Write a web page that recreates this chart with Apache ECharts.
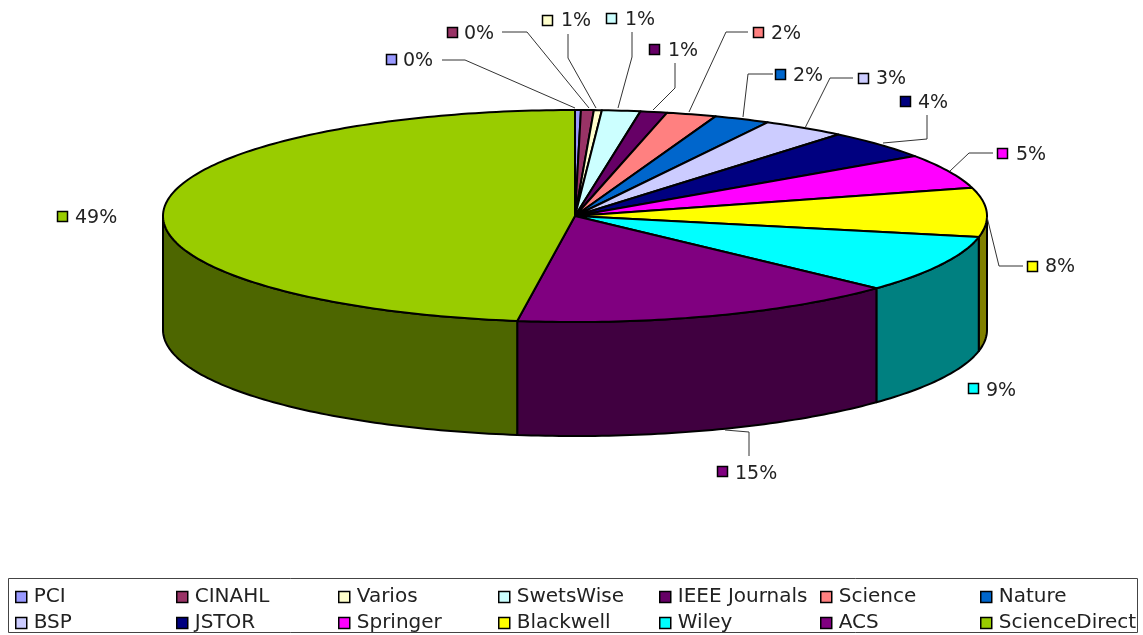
<!DOCTYPE html>
<html><head><meta charset="utf-8">
<style>html,body{margin:0;padding:0;background:#fff}#c{width:1143px;height:635px}</style>
<script src="https://cdn.jsdelivr.net/npm/echarts@6/dist/echarts.min.js"></script></head>
<body><div id="c"></div>
<script>
const categories = ['PCI','CINAHL','Varios','SwetsWise','IEEE Journals','Science','Nature','BSP','JSTOR','Springer','Blackwell','Wiley','ACS','ScienceDirect'];
const values = [0.23,0.5,0.31,1.5,1.05,1.95,2.2,3.3,4.4,5.25,7.5,8.75,15.3,47.76];
const percentLabels = ['0%','0%','1%','1%','1%','2%','2%','3%','4%','5%','8%','9%','15%','49%'];
const topColors = ['#9999FF','#993366','#FFFFCC','#CCFFFF','#660066','#FF8080','#0066CC','#CCCCFF','#000080','#FF00FF','#FFFF00','#00FFFF','#800080','#99CC00'];
const sideColors = ['#4D4D80','#4D1A33','#808066','#668080','#330033','#804040','#003366','#666680','#000040','#800080','#808000','#008080','#400040','#4D6600'];

// layout of the pie on the page
const cx = 575, cy = 216, rx = 412, ry = 106, depth = 114;
// layout of each callout: swatch x, swatch y, text x, text y, leader points
const callouts = [
 [386,54,403,61,[[442,60],[465,60],[575,108]]],
 [447,27,464,34,[[502,32],[527,32],[589,108]]],
 [542,15,561,21,[[568,34],[568,58],[596,108]]],
 [606,13,625,20,[[632,32],[632,57],[618,108]]],
 [649,44,668,51,[[675,63],[675,88],[653,110]]],
 [753,27,771,34,[[748,32],[726,32],[689,112]]],
 [775,69,793,76,[[773,74],[748,74],[743,117]]],
 [858,73,876,79,[[853,78],[830,78],[805,128]]],
 [900,96,918,103,[[927,115],[927,139],[883,143]]],
 [997,148,1016,155,[[993,153],[969,153],[950,171]]],
 [1027,261,1045,267,[[1023,266],[999,266],[987,217]]],
 [968,383,986,391,null],
 [717,466,735,474,[[749,456],[749,432],[725,430]]],
 [57,211,75,218,null]
];
const total = values.reduce((a,b)=>a+b,0);
const starts = []; values.reduce((acc,v,i)=>{starts[i]=acc;return acc+v;},0);

function pt(api,deg,drop){
  const t = deg*Math.PI/180;
  return api.coord([Math.sin(t), Math.cos(t)-drop]);
}
function arc(api,a,b,drop){
  const pts=[]; const n=Math.max(2,Math.ceil(Math.abs(b-a)));
  for(let k=0;k<=n;k++) pts.push(pt(api,a+(b-a)*k/n,drop));
  return pts;
}
const dropUnits = depth/ry;
function makeRender(i){
  return function(params,api){
    const s = starts[i]/total*360, e = (starts[i]+api.value(1))/total*360;
    const children=[];
    const a=Math.max(s,90), b=Math.min(e,270);
    if(b>a){
      const pts = arc(api,a,b,0).concat(arc(api,b,a,dropUnits));
      children.push({type:'polygon',z2:1,shape:{points:pts},
        style:{fill:sideColors[i],stroke:'#000',lineWidth:2,lineJoin:'round'}});
    }
    const top=[api.coord([0,0])].concat(arc(api,s,e,0));
    children.push({type:'polygon',z2:5,shape:{points:top},
      style:{fill:topColors[i],stroke:'#000',lineWidth:2,lineJoin:'round'}});
    return {type:'group',children};
  };
}
const series = categories.map((name,i)=>({
  type:'custom',name,coordinateSystem:'cartesian2d',silent:true,animation:false,
  itemStyle:{color:topColors[i]},
  encode:{x:0,y:1},
  data:[[0,values[i]]],
  renderItem:makeRender(i)
}));

const font='"DejaVu Sans"', fs=19, legendFs=20;
const graphic=[{type:'rect',z:0,shape:{x:8.5,y:578.5,width:1129,height:54},style:{fill:'#fff',stroke:'#444',lineWidth:1}}];
callouts.forEach((c,i)=>{
  if(c[4]) graphic.push({type:'polyline',z:3,shape:{points:c[4]},style:{fill:null,stroke:'#333',lineWidth:1}});
  graphic.push({type:'rect',z:4,shape:{x:c[0]+.5,y:c[1]+.5,width:10,height:10},style:{fill:topColors[i],stroke:'#000',lineWidth:1.5}});
  graphic.push({type:'text',z:4,style:{x:c[2],y:c[3],text:percentLabels[i],font:fs+'px '+font,fill:'#222',textVerticalAlign:'middle',verticalAlign:'middle'}});
});
const legendX=[15,176,338,498,659,820,980];
const legend=legendX.map((x,col)=>({
  left:x,top:587,orient:'vertical',padding:0,itemGap:6,itemWidth:11,itemHeight:11,selectedMode:false,
  icon:'rect',
  textStyle:{fontFamily:font,fontSize:legendFs,color:'#222',padding:[0,0,0,2]},
  data:[col,col+7].map(k=>({name:categories[k],itemStyle:{color:topColors[k],borderColor:'#000',borderWidth:1.5}}))
}));
const chart=echarts.init(document.getElementById('c'),null,{renderer:'canvas'});
chart.setOption({
  animation:false,backgroundColor:'#fff',
  grid:{left:cx-rx,width:2*rx,top:cy-ry,height:2*ry+depth,containLabel:false},
  xAxis:{type:'value',min:-1,max:1,show:false},
  yAxis:{type:'value',min:-1-dropUnits,max:1,show:false},
  legend,graphic,series
});
</script></body></html>
